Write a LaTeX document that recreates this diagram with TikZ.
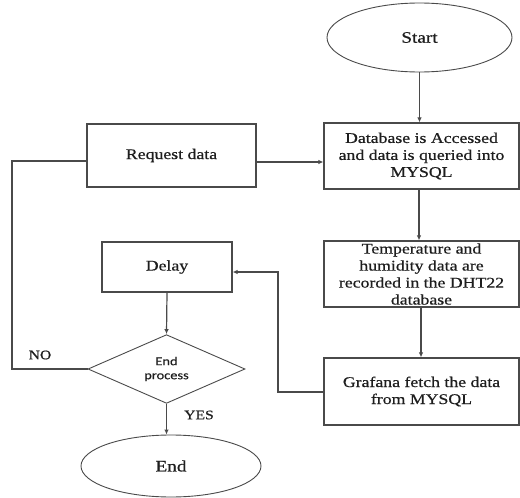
\documentclass[tikz,border=0pt]{standalone}
\usepackage{fontspec}
\setmainfont{Liberation Serif}[FakeStretch=1.2,FakeBold=0.6]
\newfontfamily\diafont{Carlito}[FakeStretch=1.2,FakeBold=0.3]
\usetikzlibrary{shapes.geometric,arrows.meta}
\definecolor{linec}{HTML}{4A4A4A}
\definecolor{textc}{HTML}{1E1E1E}
\begin{document}
\begin{tikzpicture}[x=1pt,y=-1pt,
  every node/.style={text=textc},
  box/.style={draw=linec,line width=1.2pt,rectangle,inner sep=0pt,align=center,
    font=\fontsize{14.8}{17}\selectfont},
  term/.style={draw=linec,line width=0.9pt,ellipse,inner sep=0pt,
    font=\fontsize{16}{19}\selectfont},
  dec/.style={draw=linec,line width=0.9pt,diamond,inner sep=0pt,align=center,
    font=\diafont\fontsize{12}{14}\selectfont},
  conn/.style={draw=linec,line width=1.2pt},
  arr/.style={conn,-{Latex[length=5pt,width=4.5pt]}},
  lab/.style={font=\fontsize{13}{15}\selectfont,inner sep=0pt}]
\useasboundingbox (0,0) rectangle (520,498);
\node[term,minimum width=185pt,minimum height=69pt] (start) at (419.5,37.5) {Start};
\node[box,minimum width=195pt,minimum height=66pt] (db) at (421.5,156) {Database is Accessed\\and data is queried into\\MYSQL};
\node[box,minimum width=169pt,minimum height=63pt] (req) at (171.5,155.5) {Request data};
\node[box,minimum width=195pt,minimum height=66pt] (temp) at (421.5,274) {Temperature and\\humidity data are\\recorded in the DHT22\\database};
\node[box,minimum width=195pt,minimum height=67pt] (graf) at (421.5,391.5) {Grafana fetch the data\\from MYSQL};
\node[box,minimum width=130pt,minimum height=50pt] (delay) at (167,267) {Delay};
\node[dec,minimum width=157pt,minimum height=64pt] (dia) at (166.5,369) {End\\process};
\node[term,minimum width=180pt,minimum height=62pt] (end) at (171,466) {End};
\node[lab] (no) at (40,355) {NO};
\node[lab] (yes) at (199,415) {YES};
\coordinate (y1) at (0,162);
\coordinate (x1) at (419,0);
\coordinate (x2) at (421,0);
\coordinate (c1) at (278,392);
\coordinate (y3) at (0,272);
\coordinate (nl) at (12,161);
\draw[arr] (start.south) -- (start.south |- db.north);
\draw[arr] (req.east |- y1) -- (db.west |- y1);
\draw[arr] (db.south -| x1) -- (temp.north -| x1);
\draw[arr] (temp.south -| x2) -- (graf.north -| x2);
\draw[arr] (graf.west |- c1) -- (c1) |- (delay.east |- y3);
\draw[arr] (delay.south) -- (dia.north);
\draw[arr] (dia.south) -- (dia.south |- end.north);
\draw[conn] (dia.west) -| (nl) -- (req.west |- nl);
\end{tikzpicture}
\end{document}
